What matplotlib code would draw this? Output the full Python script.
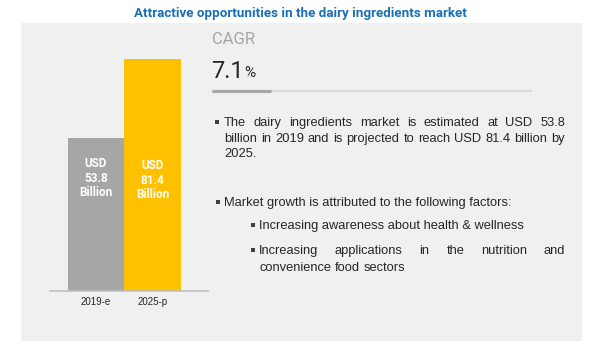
import matplotlib
matplotlib.use('Agg')
import matplotlib.pyplot as plt
from matplotlib.patches import Rectangle
from matplotlib import font_manager

# ---------------------------- data ----------------------------
years = ['2019-e', '2025-p']
values = [53.8, 81.4]
bar_labels = ['USD\n53.8\nBillion', 'USD\n81.4\nBillion']
bar_colors = ['#A6A6A6', '#FFC000']
title = 'Attractive opportunities in the dairy ingredients market'
cagr = '7.1'
bullet1 = ['The dairy ingredients market is estimated at USD 53.8',
           'billion in 2019 and is projected to reach USD 81.4 billion by',
           '2025.']
bullet2 = 'Market growth is attributed to the following factors:'
sub1 = 'Increasing awareness about health & wellness'
sub2 = ['Increasing applications in the nutrition and',
        'convenience food sectors']

names = {f.name for f in font_manager.fontManager.ttflist}
narrow = 'Liberation Sans Narrow' if 'Liberation Sans Narrow' in names else 'Roboto'
body = 'Liberation Sans'

W, H = 599, 353
fig = plt.figure(figsize=(W / 100, H / 100), dpi=100)
fig.patch.set_facecolor('white')

# overlay in pixel coordinates (y down)
ov = fig.add_axes([0, 0, 1, 1])
ov.set_xlim(0, W)
ov.set_ylim(H, 0)
ov.axis('off')
ov.add_patch(Rectangle((21, 23), 561, 318, facecolor='#F0F0F0', edgecolor='none', zorder=0))

ov.text(300, 13, title, ha='center', va='center', fontsize=9.6, fontweight='bold',
        color='#1A6EB5', family=narrow)

# ---------------------------- bars ----------------------------
def px_axes(x0, y0, x1, y1):
    return fig.add_axes([x0 / W, 1 - y1 / H, (x1 - x0) / W, (y1 - y0) / H])

ax = px_axes(50, 40, 208, 291)
ax.patch.set_alpha(0)
xpos = list(range(len(years)))
ax.bar(xpos, values, width=1.0, color=bar_colors, zorder=2)
ax.set_ylim(0, 88)
ax.set_xlim(-0.814, 1.982)
for s in ['top', 'right', 'left']:
    ax.spines[s].set_visible(False)
ax.spines['bottom'].set_color('#BFBFBF')
ax.spines['bottom'].set_linewidth(1.2)
ax.set_yticks([])
ax.set_xticks(xpos)
ax.set_xticklabels(years, fontsize=7, color='#262626', family=body)
ax.tick_params(axis='x', length=0, pad=4)
label_y = [39.5, 38.8]
for x, lab, ly in zip(xpos, bar_labels, label_y):
    ax.text(x, ly, lab, ha='center', va='center', color='white', fontsize=8.5,
            fontweight='bold', family=narrow, linespacing=1.15)

# ---------------------------- right panel ----------------------------
ov.text(212, 40, 'CAGR', ha='left', va='center', fontsize=12, color='#A6A6A6', family=narrow)
t = ov.text(211, 71, cagr, ha='left', va='center', fontsize=17, color='#262626', family=narrow)
fig.canvas.draw()
r = fig.canvas.get_renderer()
bb = t.get_window_extent(r)
ov.text(bb.x1 + 1, 73, '%', ha='left', va='center', fontsize=11, color='#262626', family=narrow)
ov.plot([212, 532], [91, 91], color='#D9D9D9', lw=1.6, solid_capstyle='butt')
ov.plot([212, 271], [91, 91], color='#A6A6A6', lw=2.2, solid_capstyle='butt')

FS = 9.3
TXT = '#262626'
BASE = 4.2  # baseline offset below the line's mid height


def write(x, y, s):
    return ov.text(x, y + BASE, s, ha='left', va='baseline', fontsize=FS, color=TXT, family=body)


def justify(line, x0, x1, y, last=False):
    words = line.split(' ')
    arts = [write(0, y, w) for w in words]
    fig.canvas.draw()
    widths = [a.get_window_extent(r).width for a in arts]
    sp = ov.text(0, y, 'a a', fontsize=FS, family=body)
    sp2 = ov.text(0, y, 'aa', fontsize=FS, family=body)
    fig.canvas.draw()
    space = sp.get_window_extent(r).width - sp2.get_window_extent(r).width
    sp.remove()
    sp2.remove()
    if last or len(words) == 1:
        gap = space
    else:
        gap = (x1 - x0 - sum(widths)) / (len(words) - 1)
    x = x0
    for a, w in zip(arts, widths):
        a.set_x(x)
        x += w + gap


def bullet(x, y):
    ov.add_patch(Rectangle((x - 1.6, y - 1.6), 3.2, 3.2, facecolor='#404040', edgecolor='none'))


bullet(217, 122)
for i, line in enumerate(bullet1):
    justify(line, 224, 565, 122 + i * 15.5, last=(i == len(bullet1) - 1))

bullet(218, 202)
write(224, 202, bullet2)

bullet(253, 225)
write(259, 225, sub1)

bullet(253, 250)
for i, line in enumerate(sub2):
    justify(line, 259, 565, 250 + i * 17, last=(i == len(sub2) - 1))

fig.savefig('out.png', dpi=100, facecolor='white')
